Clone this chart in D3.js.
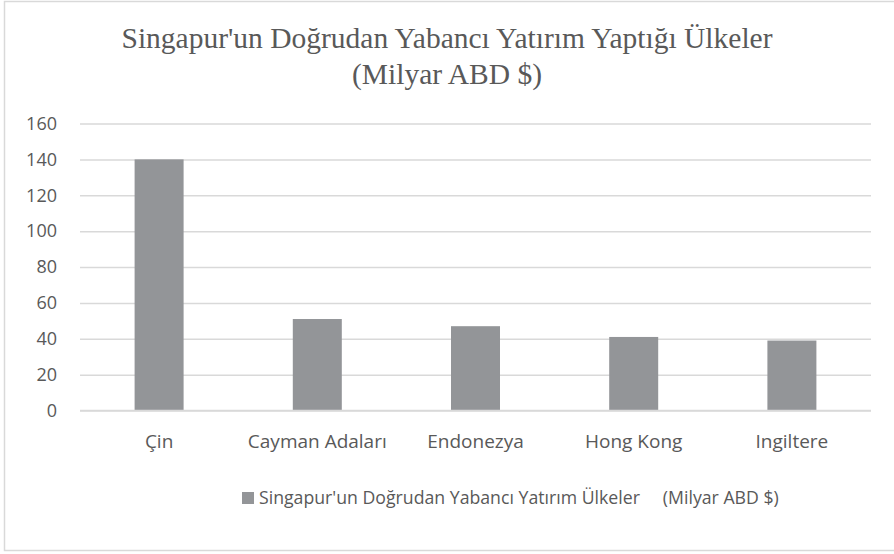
<!DOCTYPE html>
<html>
<head>
<meta charset="utf-8">
<script src="https://cdn.jsdelivr.net/npm/d3@7"></script>
<style>
  body { margin: 0; background: #fff; }
  svg text { fill: #595959; }
</style>
</head>
<body>
<svg width="894" height="554"></svg>
<script>
var countries = ["Çin", "Cayman Adaları", "Endonezya", "Hong Kong", "Ingiltere"]
var investment = [140, 51, 47, 41, 39]
var yTicks = [0, 20, 40, 60, 80, 100, 120, 140, 160]
var titleLines = ["Singapur'un Doğrudan Yabancı Yatırım Yaptığı Ülkeler", "(Milyar ABD $)"]
var legendLabel = "Singapur'un Doğrudan Yabancı Yatırım Ülkeler     (Milyar ABD $)"

var sans = "'Open Sans', 'Noto Sans', sans-serif"
var svg = d3.select("svg")

// outer frame
svg.append("rect")
  .attr("x", 4.5).attr("y", 1.5)
  .attr("width", 900).attr("height", 549)
  .style("fill", "none").style("stroke", "#d9d9d9").style("stroke-width", 1.5)

var xScale = d3.scaleBand().domain(countries).range([80, 871])
var yScale = d3.scaleLinear().domain([0, 160]).range([410.5, 123.5])
var barWidth = 49

// gridlines + y labels
var yAxis = d3.axisLeft(yScale)
  .tickValues(yTicks)
  .tickSize(-791)
  .tickPadding(23)
svg.append("g").attr("id", "yAxisG")
  .attr("transform", "translate(80,0)")
  .call(yAxis)
  .call(function (g) {
    g.select(".domain").remove()
    g.selectAll("line").style("stroke", "#d9d9d9").style("stroke-width", 1.5)
    g.selectAll("text").style("font-family", sans).style("font-size", "18px").style("fill", "#595959")
  })

svg.selectAll("rect.bar")
  .data(investment)
  .enter()
  .append("rect")
  .attr("class", "bar")
  .attr("x", function (d, i) { return xScale(countries[i]) + xScale.bandwidth() / 2 - barWidth / 2 })
  .attr("y", function (d) { return yScale(d) })
  .attr("width", barWidth)
  .attr("height", function (d) { return yScale(0) - yScale(d) })
  .style("fill", "#939598")

// baseline on top of bars
svg.append("line")
  .attr("x1", 80).attr("x2", 871)
  .attr("y1", yScale(0)).attr("y2", yScale(0))
  .style("stroke", "#d9d9d9").style("stroke-width", 1.5)

var xAxis = d3.axisBottom(xScale).tickSize(0).tickPadding(24)
svg.append("g").attr("id", "xAxisG")
  .attr("transform", "translate(0," + yScale(0) + ")")
  .call(xAxis)
  .call(function (g) {
    g.select(".domain").remove()
    g.selectAll("text").style("font-family", sans).style("font-size", "19px").style("fill", "#595959")
  })

// title
svg.selectAll("text.title")
  .data(titleLines)
  .enter()
  .append("text")
  .attr("class", "title")
  .attr("x", 447)
  .attr("y", function (d, i) { return 48 + i * 36 })
  .attr("text-anchor", "middle")
  .style("font-family", "'Liberation Serif', 'Times New Roman', serif")
  .style("font-size", "29.5px")
  .text(function (d) { return d })

// legend
svg.append("rect")
  .attr("x", 242).attr("y", 492)
  .attr("width", 12).attr("height", 12)
  .style("fill", "#939598")
svg.append("text")
  .attr("x", 259).attr("y", 504)
  .attr("xml:space", "preserve")
  .style("white-space", "pre")
  .style("font-family", sans)
  .style("font-size", "17.7px")
  .text(legendLabel)
</script>
</body>
</html>
